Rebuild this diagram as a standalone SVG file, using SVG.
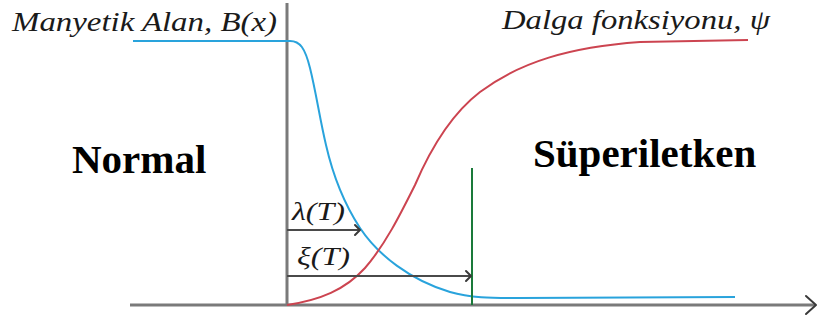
<svg xmlns="http://www.w3.org/2000/svg" width="820" height="323" viewBox="0 0 820 323">
<style>
.lab{font-family:"Liberation Serif","Times New Roman",serif;font-style:italic;fill:#1a1a1a}
.big{font-family:"Liberation Serif","Times New Roman",serif;font-weight:bold;fill:#000}
.axis{stroke:#7a7a7a;stroke-width:3;fill:none}
.arr{stroke:#4a4a4a;stroke-width:2;fill:none}
.head{stroke:#3a3a3a;stroke-width:2;fill:none;stroke-linecap:round;stroke-linejoin:round}
</style>
<rect width="820" height="323" fill="#fff"/>
<g id="axes">
<line class="axis" x1="287" y1="3" x2="287" y2="306"/>
<line class="axis" x1="130" y1="305" x2="815" y2="305"/>
<polyline class="head" points="806,296 816,305 806,314" stroke="#555" stroke-width="2.5"/>
</g>
<g id="curves">
<path id="field" d="M133,41 L290,41 C300,41 305,48 310,68 C316,92 320,120 326,145 C334,180 345,205 360,228 C378,255 410,280 450,292 C470,298 490,298 520,298 L735,297" fill="none" stroke="#29a3dc" stroke-width="2"/>
<path id="wave" d="M287,305 C320,300 345,290 365,268 C385,245 400,215 415,185 C430,150 450,115 480,92 C520,62 570,47 640,42 L748,40" fill="none" stroke="#cc4450" stroke-width="2"/>
<line id="boundary" x1="472" y1="168" x2="472" y2="305" stroke="#1a7a3a" stroke-width="2"/>
</g>
<g id="connectors">
<line class="arr" x1="287" y1="230" x2="360" y2="230"/>
<polyline class="head" points="355,225 360,230 355,235"/>
<line class="arr" x1="287" y1="276" x2="471" y2="276"/>
<polyline class="head" points="466,271 471,276 466,281"/>
</g>
<g id="labels">
<text class="lab" x="12" y="31" font-size="28" textLength="265" lengthAdjust="spacingAndGlyphs">Manyetik Alan, B(x)</text>
<text class="lab" x="502" y="29" font-size="28" textLength="268" lengthAdjust="spacingAndGlyphs">Dalga fonksiyonu, ψ</text>
<text class="big" x="72" y="173" font-size="41">Normal</text>
<text class="big" x="533" y="167" font-size="41">Süperiletken</text>
<text class="lab" x="292" y="220" font-size="25" textLength="53" lengthAdjust="spacingAndGlyphs">λ(T)</text>
<text class="lab" x="297" y="265" font-size="25" textLength="53" lengthAdjust="spacingAndGlyphs">ξ(T)</text>
</g>
</svg>
